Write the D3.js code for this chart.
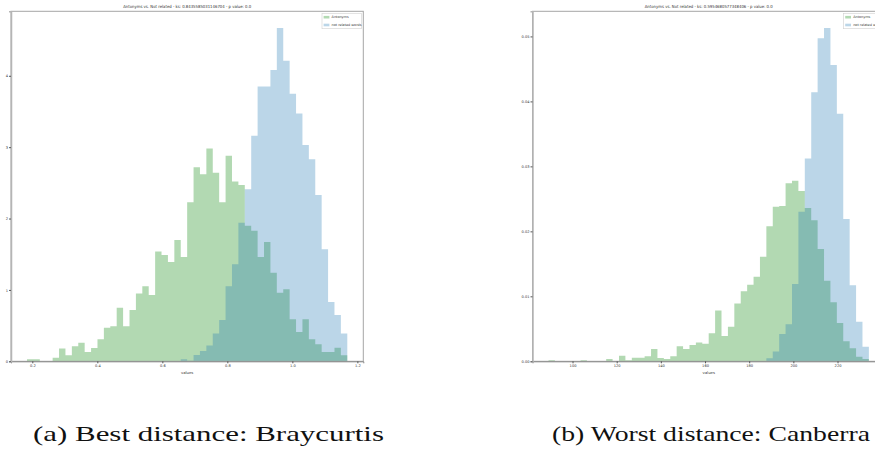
<!DOCTYPE html>
<html>
<head>
<meta charset="utf-8">
<script src="https://cdn.jsdelivr.net/npm/d3@7"></script>
<style>
  html, body { margin: 0; padding: 0; background: #fff; }
  svg { display: block; }
  .small { font-family: "DejaVu Sans", sans-serif; fill: #333; }
  .caption { font-family: "Liberation Serif", "DejaVu Serif", serif; fill: #111; }
</style>
</head>
<body>
<script>
// ---------- DATA ----------
const binCount = 50;
const seriesNames = ["Antonyms", "not related words"];

// Panel (a): Braycurtis
const leftTitle = "Antonyms vs. Not related  - ks: 0.8435585031146704 - p value: 0.0";
const leftBinRange = [0.1837, 1.169];
const leftAntonyms = [0.028,0.028,0,0,0.05,0.18,0.084,0.21,0.26,0.13,
  0.186,0.31,0.47,0.49,0.75,0.49,0.72,0.95,1.05,0.93,
  1.54,1.49,1.39,1.70,1.46,2.23,2.72,2.62,2.98,2.64,
  2.23,2.88,2.52,2.47,1.90,1.83,1.46,1.67,1.24,0.96,
  1.01,0.59,0.41,0.59,0.31,0.24,0.13,0.13,0.19,0.084];
const leftNotRelated = [0,0,0,0,0,0,0,0,0,0,
  0,0,0,0,0,0,0,0,0,0,
  0,0,0,0,0.03,0.008,0.088,0.144,0.22,0.39,
  0.58,1.05,1.36,1.94,2.41,3.16,3.85,3.85,4.08,4.67,
  4.21,3.75,3.47,3.03,2.83,2.33,1.57,0.83,0.65,0.39];
const leftXTicks = [0.2, 0.4, 0.6, 0.8, 1.0, 1.2];
const leftXTickLabels = ["0.2", "0.4", "0.6", "0.8", "1.0", "1.2"];
const leftYTicks = [0, 1, 2, 3, 4];
const leftYTickLabels = ["0", "1", "2", "3", "4"];
const leftCaption = "(a) Best distance: Braycurtis";

// Panel (b): Canberra
const rightTitle = "Antonyms vs. Not related  - ks: 0.5954680577348406 - p value: 0.0";
const rightBinRange = [89.13, 234.2];
const rightAntonyms = [0.00015,0,0,0,0,0.00015,0,0,0,0.00035,
  0,0.00087,0.00015,0.00056,0.00056,0.00077,0.0019,0.0005,0.00035,0.00077,
  0.0023,0.0019,0.0025,0.0029,0.0027,0.0043,0.0078,0.0039,0.0053,0.0089,
  0.0108,0.0118,0.0130,0.0161,0.0208,0.0238,0.0239,0.0274,0.0278,0.0262,
  0.0236,0.0217,0.0173,0.0124,0.0091,0.0059,0.0031,0.0020,0.0007,0.00035];
const rightNotRelated = [0,0,0,0,0,0,0,0,0,0,
  0,0,0,0,0,0,0,0,0,0,
  0,0,0,0,0,0,0,0,0,0,
  0,0,0,0,0.00046,0.0015,0.0042,0.0057,0.0119,0.0230,
  0.0312,0.0414,0.0497,0.0513,0.0456,0.0381,0.0219,0.0117,0.0061,0.00225];
const rightXTicks = [100, 120, 140, 160, 180, 200, 220];
const rightXTickLabels = ["100", "120", "140", "160", "180", "200", "220"];
const rightYTicks = [0, 0.01, 0.02, 0.03, 0.04, 0.05];
const rightYTickLabels = ["0.00", "0.01", "0.02", "0.03", "0.04", "0.05"];
const rightCaption = "(b) Worst distance: Canberra";

const xLabel = "values";

// ---------- DRAWING ----------
const W = 875, H = 452;
const svg = d3.select("body").append("svg").attr("width", W).attr("height", H);

const colors = { a: "#008000", b: "#1f77b4" };

function histPoints(range, values) {
  const w = (range[1] - range[0]) / binCount;
  const pts = values.map((v, i) => ({ x: range[0] + i * w, v }));
  pts.push({ x: range[1], v: values[values.length - 1] });
  return pts;
}

function panel(cfg) {
  const { left, right, top, bottom } = cfg.box;
  const span = (cfg.range[1] - cfg.range[0]);
  const pad = span * 0.05;
  const x = d3.scaleLinear().domain([cfg.range[0] - pad, cfg.range[1] + pad]).range([left, right]);
  const ymax = d3.max(cfg.series.flat()) * 1.05;
  const y = d3.scaleLinear().domain([0, ymax]).range([bottom, top]);

  const g = svg.append("g");

  const area = d3.area().x(d => x(d.x)).y0(y(0)).y1(d => y(d.v)).curve(d3.curveStepAfter);
  cfg.series.forEach((vals, k) => {
    g.append("path").datum(histPoints(cfg.range, vals))
      .attr("d", area)
      .attr("fill", k === 0 ? colors.a : colors.b)
      .attr("fill-opacity", 0.3);
  });

  // frame
  g.append("rect").attr("x", left).attr("y", top).attr("width", right - left).attr("height", bottom - top)
    .attr("fill", "none").attr("stroke", "#a6a6a6").attr("stroke-width", 1);

  // axes
  const xAxis = d3.axisBottom(x).tickValues(cfg.xTicks).tickSize(2).tickPadding(1)
    .tickFormat((d, i) => cfg.xTickLabels[i]);
  const gx = g.append("g").attr("transform", `translate(0,${bottom})`).call(xAxis);
  gx.select(".domain").attr("stroke", "#888");
  gx.selectAll(".tick line").attr("stroke", "#555");
  gx.selectAll("text").attr("class", "small").style("font-size", "3.6px");

  const yAxis = d3.axisLeft(y).tickValues(cfg.yTicks).tickSize(2).tickPadding(1)
    .tickFormat((d, i) => cfg.yTickLabels[i]);
  const gy = g.append("g").attr("transform", `translate(${left},0)`).call(yAxis);
  gy.select(".domain").attr("stroke", "#b5b5b5").attr("stroke-width", 1.5);
  gy.selectAll(".tick line").attr("stroke", "#555");
  gy.selectAll("text").attr("class", "small").style("font-size", "3.6px");

  // x label
  g.append("text").attr("class", "small").attr("x", (left + right) / 2).attr("y", bottom + 12.3)
    .attr("text-anchor", "middle").style("font-size", "3.8px").text(xLabel);

  // title
  g.append("text").attr("class", "small").attr("x", (left + right) / 2).attr("y", top - 3.2)
    .attr("text-anchor", "middle").style("font-size", "4.2px")
    .attr("textLength", 128).attr("lengthAdjust", "spacingAndGlyphs")
    .text(cfg.title);

  // legend
  const lx = right - 41.3, ly = top + 2;
  const lg = g.append("g");
  lg.append("rect").attr("x", lx).attr("y", ly).attr("width", 39.5).attr("height", 15.4)
    .attr("fill", "#fff").attr("stroke", "#d0d0d0").attr("stroke-width", 0.6);
  seriesNames.forEach((name, k) => {
    const yy = ly + 2.6 + k * 7.8;
    lg.append("rect").attr("x", lx + 1.6).attr("y", yy).attr("width", 5.8).attr("height", 2.6)
      .attr("fill", k === 0 ? colors.a : colors.b).attr("fill-opacity", 0.3);
    lg.append("text").attr("class", "small").attr("x", lx + 9.6).attr("y", yy + 2.4)
      .style("font-size", "3.4px").text(name);
  });

  // caption
  svg.append("text").attr("class", "caption").attr("x", cfg.caption.x).attr("y", 441)
    .style("font-size", "22px")
    .attr("textLength", cfg.caption.w).attr("lengthAdjust", "spacingAndGlyphs")
    .text(cfg.caption.text);
}

panel({
  box: { left: 11, right: 363.3, top: 11.3, bottom: 361.3 },
  range: leftBinRange,
  series: [leftAntonyms, leftNotRelated],
  xTicks: leftXTicks, xTickLabels: leftXTickLabels,
  yTicks: leftYTicks, yTickLabels: leftYTickLabels,
  title: leftTitle,
  caption: { text: leftCaption, x: 33, w: 351 }
});

panel({
  box: { left: 532.5, right: 884.9, top: 11.3, bottom: 361.3 },
  range: rightBinRange,
  series: [rightAntonyms, rightNotRelated],
  xTicks: rightXTicks, xTickLabels: rightXTickLabels,
  yTicks: rightYTicks, yTickLabels: rightYTickLabels,
  title: rightTitle,
  caption: { text: rightCaption, x: 552, w: 318 }
});
</script>
</body>
</html>
